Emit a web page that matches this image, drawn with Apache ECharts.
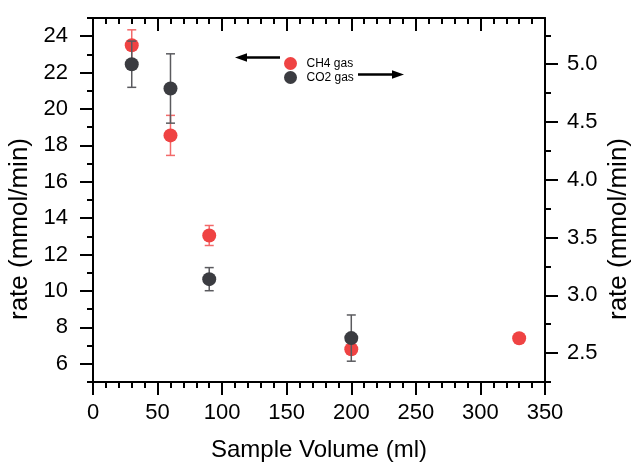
<!DOCTYPE html>
<html><head><meta charset="utf-8">
<script src="https://cdn.jsdelivr.net/npm/echarts@6/dist/echarts.min.js"></script>
<style>html,body{margin:0;padding:0;background:#fff}#c{width:633px;height:463px}</style>
</head><body><div id="c"></div>
<script>
// ---- data ----
const ch4Volume = [30, 60, 90, 200, 330];
const ch4Rate   = [23.5, 18.55, 13.05, 6.8, 7.4];
const ch4Err    = [0.85, 1.1, 0.55, 0, 0];
const co2Volume = [30, 60, 90, 200];
const co2Rate   = [5.0, 4.79, 3.14, 2.63];
const co2Err    = [0.2, 0.3, 0.1, 0.2];
const leftMajorTicks  = [6, 8, 10, 12, 14, 16, 18, 20, 22, 24];
const leftMinorTicks  = [5, 7, 9, 11, 13, 15, 17, 19, 21, 23, 25];
const rightMajorTicks = [2.5, 3.0, 3.5, 4.0, 4.5, 5.0];
const rightMinorTicks = [2.25, 2.75, 3.25, 3.75, 4.25, 4.75, 5.25];

const FONT = "'Liberation Sans', Arial, sans-serif";
const RED = '#EF4343', DARK = '#3B3C41';

const pts = (xs, ys) => xs.map((x, i) => [x, ys[i]]);
const errs = (xs, ys, es) => xs.map((x, i) => [x, ys[i] - es[i], ys[i] + es[i]]).filter((d, i) => es[i] > 0);

function errRender(color) {
  return function (params, api) {
    const x = api.value(0), lo = api.value(1), hi = api.value(2);
    const a = api.coord([x, hi]), b = api.coord([x, lo]);
    const w = 4.5, st = { stroke: color, lineWidth: 1.5 };
    return { type: 'group', children: [
      { type: 'line', shape: { x1: a[0], y1: a[1], x2: b[0], y2: b[1] }, style: st },
      { type: 'line', shape: { x1: a[0] - w, y1: a[1], x2: a[0] + w, y2: a[1] }, style: st },
      { type: 'line', shape: { x1: b[0] - w, y1: b[1], x2: b[0] + w, y2: b[1] }, style: st }
    ]};
  };
}

const axLine = (show) => ({ show: show, onZero: false, lineStyle: { color: '#000', width: 2 } });
const tick = (len, extra) => Object.assign({ show: true, length: len, lineStyle: { width: 2, color: '#000' } }, extra || {});
const labelStyle = () => ({ color: '#000', fontSize: 22, fontFamily: FONT });
const nameStyle = { color: '#000', fontSize: 24, fontFamily: FONT };
const yNameStyle = () => ({ color: '#000', fontSize: 26, fontFamily: FONT, padding: [0, 58, 0, 0] });

const chart = echarts.init(document.getElementById('c'), null, { renderer: 'canvas' });
chart.setOption({
  animation: false,
  backgroundColor: '#fff',
  grid: { left: 93, right: 88, top: 18, bottom: 81, containLabel: false, outerBoundsMode: 'none' },
  legend: {
    orient: 'vertical', left: 279, top: 52,
    itemWidth: 22, itemHeight: 13, itemGap: 1,
    icon: 'circle',
    textStyle: { fontSize: 12, fontFamily: FONT, color: '#000', lineHeight: 13 },
    data: ['CH4 gas', 'CO2 gas']
  },
  xAxis: [
    { type: 'value', position: 'bottom', min: 0, max: 350, interval: 50,
      axisLine: axLine(true), splitLine: { show: false },
      axisTick: tick(13),
      minorTick: { show: true, splitNumber: 5, length: 6, lineStyle: { width: 2, color: '#000' } },
      axisLabel: Object.assign({ margin: 20 }, labelStyle()),
      name: 'Sample Volume (ml)', nameLocation: 'middle', nameGap: 56, nameTextStyle: nameStyle },
    { type: 'value', position: 'top', min: 0, max: 350, interval: 50,
      axisLine: axLine(true), splitLine: { show: false },
      axisTick: tick(13, { inside: true }),
      minorTick: { show: true, splitNumber: 5, length: 6, lineStyle: { width: 2, color: '#000' } },
      axisLabel: { show: false } }
  ],
  yAxis: [
    { type: 'value', position: 'left', min: 5, max: 25,
      axisLine: axLine(true), splitLine: { show: false },
      axisTick: tick(13, { customValues: leftMajorTicks }),
      axisLabel: Object.assign({ margin: 25, customValues: leftMajorTicks }, labelStyle()),
      name: 'rate (mmol/min)', nameLocation: 'middle', nameGap: 60, nameTextStyle: yNameStyle() },
    { type: 'value', position: 'right', min: 2.25, max: 5.4,
      axisLine: axLine(true), splitLine: { show: false },
      axisTick: tick(13, { customValues: rightMajorTicks }),
      axisLabel: Object.assign({ margin: 22, customValues: rightMajorTicks, formatter: v => v.toFixed(1) }, labelStyle()),
      name: 'rate (mmol/min)', nameLocation: 'middle', nameGap: 61, nameRotate: 90, nameMoveOverlap: false,
      nameTextStyle: yNameStyle() },
    { type: 'value', position: 'left', min: 5, max: 25,
      axisLine: axLine(false), splitLine: { show: false },
      axisTick: tick(6, { customValues: leftMinorTicks }),
      axisLabel: { show: false } },
    { type: 'value', position: 'right', min: 2.25, max: 5.4,
      axisLine: axLine(false), splitLine: { show: false },
      axisTick: tick(6, { customValues: rightMinorTicks }),
      axisLabel: { show: false } }
  ],
  series: [
    { type: 'custom', name: 'ch4err', xAxisIndex: 0, yAxisIndex: 0, z: 2,
      renderItem: errRender('#F26A6A'), encode: { x: 0, y: [1, 2] },
      data: errs(ch4Volume, ch4Rate, ch4Err) },
    { type: 'scatter', name: 'CH4 gas', xAxisIndex: 0, yAxisIndex: 0, z: 3,
      symbol: 'circle', symbolSize: 14, itemStyle: { color: RED, opacity: 1 },
      data: pts(ch4Volume, ch4Rate) },
    { type: 'custom', name: 'co2err', xAxisIndex: 0, yAxisIndex: 1, z: 4,
      renderItem: errRender('#5A5A5E'), encode: { x: 0, y: [1, 2] },
      data: errs(co2Volume, co2Rate, co2Err) },
    { type: 'scatter', name: 'CO2 gas', xAxisIndex: 0, yAxisIndex: 1, z: 5,
      symbol: 'circle', symbolSize: 14, itemStyle: { color: DARK, opacity: 1 },
      data: pts(co2Volume, co2Rate) }
  ],
  graphic: [
    { type: 'line', shape: { x1: 246, y1: 57.5, x2: 280, y2: 57.5 }, style: { stroke: '#000', lineWidth: 2.5 } },
    { type: 'polygon', shape: { points: [[235, 57.5], [247, 53.3], [247, 61.7]] }, style: { fill: '#000' } },
    { type: 'line', shape: { x1: 358, y1: 74.5, x2: 393, y2: 74.5 }, style: { stroke: '#000', lineWidth: 2.5 } },
    { type: 'polygon', shape: { points: [[404, 74.5], [392, 70.3], [392, 78.7]] }, style: { fill: '#000' } }
  ]
});
</script></body></html>
